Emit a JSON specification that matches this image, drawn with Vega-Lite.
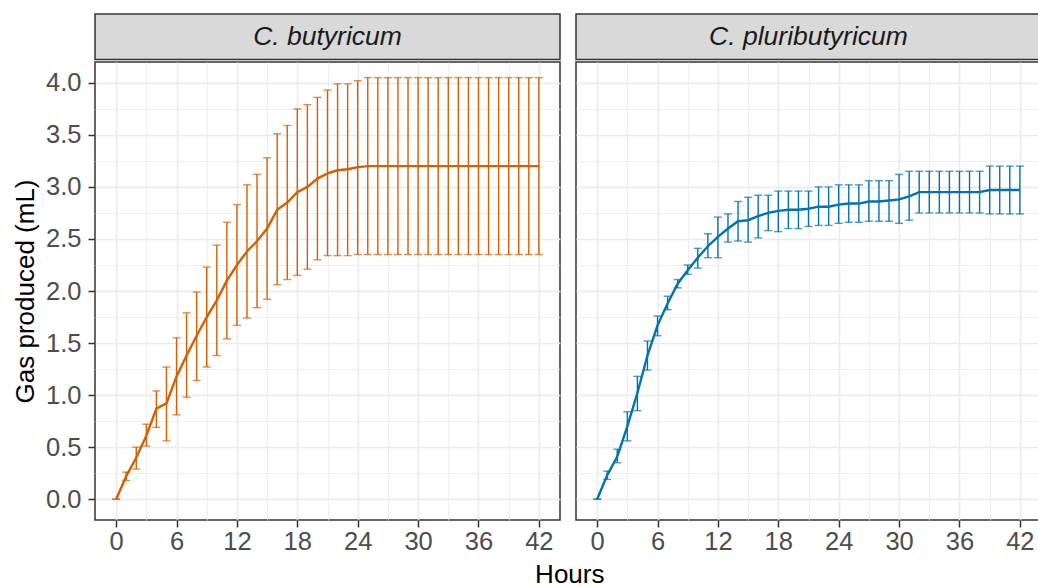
{
  "$schema": "https://vega.github.io/schema/vega-lite/v6.json",
  "background": "white",
  "padding": {"left": 11, "top": 13, "right": 0, "bottom": 0},
  "title": {
    "text": "Hours",
    "orient": "bottom",
    "anchor": "middle",
    "frame": "bounds",
    "dx": 43,
    "offset": 7,
    "font": "Liberation Sans",
    "fontSize": 26,
    "fontWeight": "normal",
    "color": "#000000"
  },
  "config": {
    "font": "Liberation Sans",
    "axis": {
      "domain": false,
      "labelFont": "Liberation Sans",
      "labelFontSize": 25.5,
      "labelColor": "#4D4D4D",
      "tickColor": "#333333",
      "tickWidth": 1.5,
      "tickSize": 7,
      "gridColor": "#EBEBEB",
      "titleFont": "Liberation Sans",
      "titleFontSize": 26,
      "titleFontWeight": "normal",
      "titleColor": "#000000"
    }
  },
  "datasets": {
    "gas": [
      {"species": "C. butyricum", "hours": 0, "mean": 0, "lower": 0, "upper": 0},
      {"species": "C. butyricum", "hours": 1, "mean": 0.22, "lower": 0.18, "upper": 0.26},
      {"species": "C. butyricum", "hours": 2, "mean": 0.40, "lower": 0.29, "upper": 0.50},
      {"species": "C. butyricum", "hours": 3, "mean": 0.61, "lower": 0.51, "upper": 0.72},
      {"species": "C. butyricum", "hours": 4, "mean": 0.87, "lower": 0.69, "upper": 1.04},
      {"species": "C. butyricum", "hours": 5, "mean": 0.92, "lower": 0.56, "upper": 1.27},
      {"species": "C. butyricum", "hours": 6, "mean": 1.18, "lower": 0.81, "upper": 1.55},
      {"species": "C. butyricum", "hours": 7, "mean": 1.38, "lower": 0.98, "upper": 1.79},
      {"species": "C. butyricum", "hours": 8, "mean": 1.57, "lower": 1.14, "upper": 1.99},
      {"species": "C. butyricum", "hours": 9, "mean": 1.75, "lower": 1.27, "upper": 2.23},
      {"species": "C. butyricum", "hours": 10, "mean": 1.91, "lower": 1.38, "upper": 2.44},
      {"species": "C. butyricum", "hours": 11, "mean": 2.10, "lower": 1.54, "upper": 2.66},
      {"species": "C. butyricum", "hours": 12, "mean": 2.25, "lower": 1.67, "upper": 2.83},
      {"species": "C. butyricum", "hours": 13, "mean": 2.38, "lower": 1.74, "upper": 3.02},
      {"species": "C. butyricum", "hours": 14, "mean": 2.48, "lower": 1.84, "upper": 3.12},
      {"species": "C. butyricum", "hours": 15, "mean": 2.60, "lower": 1.92, "upper": 3.28},
      {"species": "C. butyricum", "hours": 16, "mean": 2.78, "lower": 2.06, "upper": 3.51},
      {"species": "C. butyricum", "hours": 17, "mean": 2.85, "lower": 2.11, "upper": 3.59},
      {"species": "C. butyricum", "hours": 18, "mean": 2.95, "lower": 2.15, "upper": 3.75},
      {"species": "C. butyricum", "hours": 19, "mean": 3.00, "lower": 2.21, "upper": 3.79},
      {"species": "C. butyricum", "hours": 20, "mean": 3.08, "lower": 2.30, "upper": 3.86},
      {"species": "C. butyricum", "hours": 21, "mean": 3.13, "lower": 2.34, "upper": 3.93},
      {"species": "C. butyricum", "hours": 22, "mean": 3.16, "lower": 2.34, "upper": 3.99},
      {"species": "C. butyricum", "hours": 23, "mean": 3.17, "lower": 2.34, "upper": 3.99},
      {"species": "C. butyricum", "hours": 24, "mean": 3.19, "lower": 2.35, "upper": 4.02},
      {"species": "C. butyricum", "hours": 25, "mean": 3.20, "lower": 2.35, "upper": 4.05},
      {"species": "C. butyricum", "hours": 26, "mean": 3.20, "lower": 2.35, "upper": 4.05},
      {"species": "C. butyricum", "hours": 27, "mean": 3.20, "lower": 2.35, "upper": 4.05},
      {"species": "C. butyricum", "hours": 28, "mean": 3.20, "lower": 2.35, "upper": 4.05},
      {"species": "C. butyricum", "hours": 29, "mean": 3.20, "lower": 2.35, "upper": 4.05},
      {"species": "C. butyricum", "hours": 30, "mean": 3.20, "lower": 2.35, "upper": 4.05},
      {"species": "C. butyricum", "hours": 31, "mean": 3.20, "lower": 2.35, "upper": 4.05},
      {"species": "C. butyricum", "hours": 32, "mean": 3.20, "lower": 2.35, "upper": 4.05},
      {"species": "C. butyricum", "hours": 33, "mean": 3.20, "lower": 2.35, "upper": 4.05},
      {"species": "C. butyricum", "hours": 34, "mean": 3.20, "lower": 2.35, "upper": 4.05},
      {"species": "C. butyricum", "hours": 35, "mean": 3.20, "lower": 2.35, "upper": 4.05},
      {"species": "C. butyricum", "hours": 36, "mean": 3.20, "lower": 2.35, "upper": 4.05},
      {"species": "C. butyricum", "hours": 37, "mean": 3.20, "lower": 2.35, "upper": 4.05},
      {"species": "C. butyricum", "hours": 38, "mean": 3.20, "lower": 2.35, "upper": 4.05},
      {"species": "C. butyricum", "hours": 39, "mean": 3.20, "lower": 2.35, "upper": 4.05},
      {"species": "C. butyricum", "hours": 40, "mean": 3.20, "lower": 2.35, "upper": 4.05},
      {"species": "C. butyricum", "hours": 41, "mean": 3.20, "lower": 2.35, "upper": 4.05},
      {"species": "C. butyricum", "hours": 42, "mean": 3.20, "lower": 2.35, "upper": 4.05},
      {"species": "C. pluributyricum", "hours": 0, "mean": 0, "lower": 0, "upper": 0},
      {"species": "C. pluributyricum", "hours": 1, "mean": 0.23, "lower": 0.19, "upper": 0.27},
      {"species": "C. pluributyricum", "hours": 2, "mean": 0.41, "lower": 0.35, "upper": 0.48},
      {"species": "C. pluributyricum", "hours": 3, "mean": 0.70, "lower": 0.56, "upper": 0.84},
      {"species": "C. pluributyricum", "hours": 4, "mean": 1.02, "lower": 0.85, "upper": 1.18},
      {"species": "C. pluributyricum", "hours": 5, "mean": 1.38, "lower": 1.24, "upper": 1.52},
      {"species": "C. pluributyricum", "hours": 6, "mean": 1.67, "lower": 1.57, "upper": 1.76},
      {"species": "C. pluributyricum", "hours": 7, "mean": 1.88, "lower": 1.82, "upper": 1.95},
      {"species": "C. pluributyricum", "hours": 8, "mean": 2.07, "lower": 2.03, "upper": 2.11},
      {"species": "C. pluributyricum", "hours": 9, "mean": 2.20, "lower": 2.16, "upper": 2.25},
      {"species": "C. pluributyricum", "hours": 10, "mean": 2.32, "lower": 2.22, "upper": 2.41},
      {"species": "C. pluributyricum", "hours": 11, "mean": 2.43, "lower": 2.32, "upper": 2.55},
      {"species": "C. pluributyricum", "hours": 12, "mean": 2.52, "lower": 2.32, "upper": 2.71},
      {"species": "C. pluributyricum", "hours": 13, "mean": 2.60, "lower": 2.47, "upper": 2.74},
      {"species": "C. pluributyricum", "hours": 14, "mean": 2.67, "lower": 2.48, "upper": 2.86},
      {"species": "C. pluributyricum", "hours": 15, "mean": 2.68, "lower": 2.47, "upper": 2.90},
      {"species": "C. pluributyricum", "hours": 16, "mean": 2.72, "lower": 2.51, "upper": 2.92},
      {"species": "C. pluributyricum", "hours": 17, "mean": 2.75, "lower": 2.58, "upper": 2.92},
      {"species": "C. pluributyricum", "hours": 18, "mean": 2.77, "lower": 2.57, "upper": 2.96},
      {"species": "C. pluributyricum", "hours": 19, "mean": 2.78, "lower": 2.60, "upper": 2.96},
      {"species": "C. pluributyricum", "hours": 20, "mean": 2.78, "lower": 2.60, "upper": 2.96},
      {"species": "C. pluributyricum", "hours": 21, "mean": 2.79, "lower": 2.62, "upper": 2.96},
      {"species": "C. pluributyricum", "hours": 22, "mean": 2.81, "lower": 2.63, "upper": 3.00},
      {"species": "C. pluributyricum", "hours": 23, "mean": 2.81, "lower": 2.63, "upper": 3.00},
      {"species": "C. pluributyricum", "hours": 24, "mean": 2.83, "lower": 2.65, "upper": 3.02},
      {"species": "C. pluributyricum", "hours": 25, "mean": 2.84, "lower": 2.66, "upper": 3.02},
      {"species": "C. pluributyricum", "hours": 26, "mean": 2.84, "lower": 2.66, "upper": 3.02},
      {"species": "C. pluributyricum", "hours": 27, "mean": 2.86, "lower": 2.67, "upper": 3.06},
      {"species": "C. pluributyricum", "hours": 28, "mean": 2.86, "lower": 2.67, "upper": 3.06},
      {"species": "C. pluributyricum", "hours": 29, "mean": 2.87, "lower": 2.67, "upper": 3.06},
      {"species": "C. pluributyricum", "hours": 30, "mean": 2.88, "lower": 2.65, "upper": 3.12},
      {"species": "C. pluributyricum", "hours": 31, "mean": 2.91, "lower": 2.68, "upper": 3.15},
      {"species": "C. pluributyricum", "hours": 32, "mean": 2.95, "lower": 2.75, "upper": 3.15},
      {"species": "C. pluributyricum", "hours": 33, "mean": 2.95, "lower": 2.75, "upper": 3.15},
      {"species": "C. pluributyricum", "hours": 34, "mean": 2.95, "lower": 2.75, "upper": 3.15},
      {"species": "C. pluributyricum", "hours": 35, "mean": 2.95, "lower": 2.75, "upper": 3.15},
      {"species": "C. pluributyricum", "hours": 36, "mean": 2.95, "lower": 2.75, "upper": 3.15},
      {"species": "C. pluributyricum", "hours": 37, "mean": 2.95, "lower": 2.75, "upper": 3.15},
      {"species": "C. pluributyricum", "hours": 38, "mean": 2.95, "lower": 2.75, "upper": 3.15},
      {"species": "C. pluributyricum", "hours": 39, "mean": 2.97, "lower": 2.74, "upper": 3.20},
      {"species": "C. pluributyricum", "hours": 40, "mean": 2.97, "lower": 2.74, "upper": 3.20},
      {"species": "C. pluributyricum", "hours": 41, "mean": 2.97, "lower": 2.74, "upper": 3.20},
      {"species": "C. pluributyricum", "hours": 42, "mean": 2.97, "lower": 2.74, "upper": 3.20}
    ]
  },
  "spacing": 14,
  "hconcat": [
    {
      "spacing": 0,
      "vconcat": [
        {
          "width": 465,
          "height": 45.5,
          "view": {"fill": "#D9D9D9", "stroke": "#333333", "strokeWidth": 1.5},
          "data": {"values": [{"species": "C. butyricum"}]},
          "mark": {"type": "text", "font": "Liberation Sans", "fontStyle": "italic", "fontSize": 26.5, "color": "#1A1A1A"},
          "encoding": {"text": {"field": "species"}}
        },
        {
          "width": 465,
          "height": 458,
          "view": {"fill": "white", "stroke": "#333333", "strokeWidth": 1.5},
          "data": {"name": "gas"},
          "transform": [{"filter": "datum.species === 'C. butyricum'"}],
          "resolve": {"axis": {"x": "independent", "y": "independent"}},
          "layer": [
            {
              "mark": {"type": "errorbar", "color": "#D55E00", "thickness": 1.4, "ticks": {"size": 8}},
              "encoding": {
                "x": {
                  "field": "hours", "type": "quantitative",
                  "scale": {"domain": [-2.1, 44.1], "nice": false, "zero": false},
                  "axis": {"values": [0, 6, 12, 18, 24, 30, 36, 42], "grid": true, "gridWidth": 1.5, "labelPadding": 2, "title": null}
                },
                "y": {
                  "field": "lower", "type": "quantitative",
                  "scale": {"domain": [-0.2, 4.2], "nice": false, "zero": false},
                  "axis": {"values": [0, 0.5, 1, 1.5, 2, 2.5, 3, 3.5, 4], "format": ".1f", "grid": true, "gridWidth": 1.5, "labelPadding": 7, "title": "Gas produced (mL)", "titlePadding": 7}
                },
                "y2": {"field": "upper"}
              }
            },
            {
              "mark": {"type": "line", "color": "#D55E00", "strokeWidth": 2.4},
              "encoding": {
                "x": {
                  "field": "hours", "type": "quantitative",
                  "axis": {"values": [3, 9, 15, 21, 27, 33, 39], "grid": true, "gridWidth": 0.8, "labels": false, "ticks": false, "title": null}
                },
                "y": {
                  "field": "mean", "type": "quantitative",
                  "axis": {"values": [0.25, 0.75, 1.25, 1.75, 2.25, 2.75, 3.25, 3.75], "grid": true, "gridWidth": 0.8, "labels": false, "ticks": false, "title": null}
                }
              }
            }
          ]
        }
      ]
    },
    {
      "spacing": 0,
      "vconcat": [
        {
          "width": 465,
          "height": 45.5,
          "view": {"fill": "#D9D9D9", "stroke": "#333333", "strokeWidth": 1.5},
          "data": {"values": [{"species": "C. pluributyricum"}]},
          "mark": {"type": "text", "font": "Liberation Sans", "fontStyle": "italic", "fontSize": 26.5, "color": "#1A1A1A"},
          "encoding": {"text": {"field": "species"}}
        },
        {
          "width": 465,
          "height": 458,
          "view": {"fill": "white", "stroke": "#333333", "strokeWidth": 1.5},
          "data": {"name": "gas"},
          "transform": [{"filter": "datum.species === 'C. pluributyricum'"}],
          "resolve": {"axis": {"x": "independent", "y": "independent"}},
          "layer": [
            {
              "mark": {"type": "errorbar", "color": "#0072B2", "thickness": 1.4, "ticks": {"size": 8}},
              "encoding": {
                "x": {
                  "field": "hours", "type": "quantitative",
                  "scale": {"domain": [-2.1, 44.1], "nice": false, "zero": false},
                  "axis": {"values": [0, 6, 12, 18, 24, 30, 36, 42], "grid": true, "gridWidth": 1.5, "labelPadding": 2, "title": null}
                },
                "y": {
                  "field": "lower", "type": "quantitative",
                  "scale": {"domain": [-0.2, 4.2], "nice": false, "zero": false},
                  "axis": {"values": [0, 0.5, 1, 1.5, 2, 2.5, 3, 3.5, 4], "grid": true, "gridWidth": 1.5, "labels": false, "ticks": false, "title": null}
                },
                "y2": {"field": "upper"}
              }
            },
            {
              "mark": {"type": "line", "color": "#0072B2", "strokeWidth": 2.4},
              "encoding": {
                "x": {
                  "field": "hours", "type": "quantitative",
                  "axis": {"values": [3, 9, 15, 21, 27, 33, 39], "grid": true, "gridWidth": 0.8, "labels": false, "ticks": false, "title": null}
                },
                "y": {
                  "field": "mean", "type": "quantitative",
                  "axis": {"values": [0.25, 0.75, 1.25, 1.75, 2.25, 2.75, 3.25, 3.75], "grid": true, "gridWidth": 0.8, "labels": false, "ticks": false, "title": null}
                }
              }
            }
          ]
        }
      ]
    }
  ]
}
